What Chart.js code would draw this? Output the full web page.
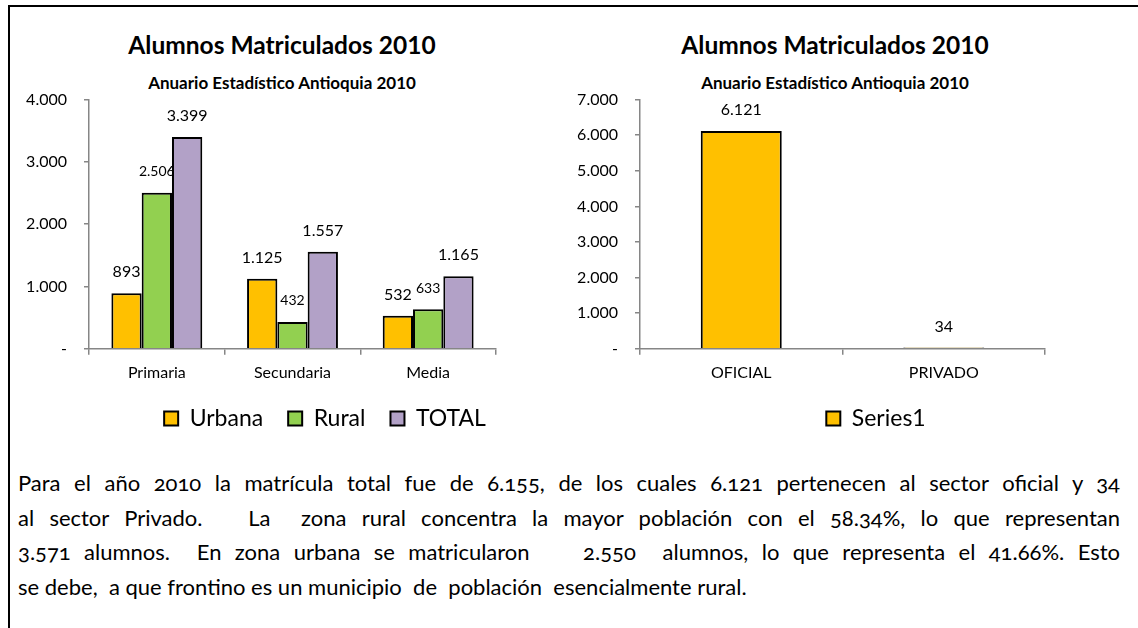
<!DOCTYPE html>
<html lang="es">
<head>
<meta charset="utf-8">
<title>Alumnos Matriculados 2010</title>
<script src="https://cdn.jsdelivr.net/npm/chart.js@4.4.1/dist/chart.umd.min.js"></script>
<style>
  html, body { margin: 0; padding: 0; background: #fff; }
  body { width: 1138px; height: 628px; position: relative; overflow: hidden; font-family: Lato, sans-serif; color: #000; }
  .frame-top { position: absolute; left: 8px; top: 5px; width: 1130px; height: 2px; background: #000; }
  .frame-left { position: absolute; left: 8px; top: 5px; width: 2px; height: 623px; background: #000; }
  .title, .subtitle { position: absolute; font-weight: bold; white-space: nowrap; transform: translateX(-50%); }
  .title { font-size: 24.5px; line-height: 24px; top: 33px; }
  .subtitle { font-size: 17px; line-height: 17px; top: 74px; }
  .chart-box { position: absolute; top: 73px; height: 367px; }
  .texto { position: absolute; left: 18px; top: 466px; width: 1102px; font-size: 22px; line-height: 34.7px; font-variant-numeric: oldstyle-nums; }
  .texto div { text-align: justify; text-align-last: justify; }
  .texto div.ultima { text-align-last: left; }
</style>
</head>
<body>
<div class="frame-top"></div>
<div class="frame-left"></div>

<div class="title" style="left:282px">Alumnos Matriculados 2010</div>
<div class="subtitle" style="left:282px">Anuario Estadístico Antioquia 2010</div>
<div class="chart-box" style="left:0px; width:650px"><canvas id="nivelesChart"></canvas></div>

<div class="title" style="left:835px">Alumnos Matriculados 2010</div>
<div class="subtitle" style="left:835px">Anuario Estadístico Antioquia 2010</div>
<div class="chart-box" style="left:560px; width:632px"><canvas id="sectoresChart"></canvas></div>

<div class="texto">
  <div>Para el año 2010 la matrícula total fue de 6.155, de los cuales 6.121 pertenecen al sector oficial y 34</div>
  <div>al sector Privado.&nbsp;&nbsp; La&nbsp; zona rural concentra la mayor población con el 58.34%, lo que representan</div>
  <div>3.571 alumnos.&nbsp; En zona urbana se matricularon &nbsp;&nbsp; 2.550&nbsp; alumnos, lo que representa el 41.66%. Esto</div>
  <div class="ultima">se debe,&nbsp; a que frontino es un municipio&nbsp; de&nbsp; población&nbsp; esencialmente rural.</div>
</div>

<script>
// Data
const niveles = ['Primaria', 'Secundaria', 'Media'];
const urbana = [893, 1125, 532];
const rural = [2506, 432, 633];
const total = [3399, 1557, 1165];

const sectores = ['OFICIAL', 'PRIVADO'];
const series1 = [6121, 34];

const nivelesMax = 4000;
const sectoresMax = 7000;
const tickStep = 1000;

// 4000 -> "4.000", 0 -> "-"
function formatNum(v) {
    if (v === 0) return '-';
    return String(v).replace(/\B(?=(\d{3})+(?!\d))/g, '.');
}

// Value labels above each bar
const valueLabels = {
    id: 'valueLabels',
    afterDatasetsDraw(chart) {
        const ctx = chart.ctx;
        ctx.save();
        ctx.fillStyle = '#000';
        ctx.textAlign = 'center';
        ctx.textBaseline = 'middle';
        chart.data.datasets.forEach((ds, i) => {
            const meta = chart.getDatasetMeta(i);
            ctx.font = (ds.labelSize || 16) + 'px Lato';
            meta.data.forEach((bar, j) => {
                ctx.fillText(formatNum(ds.data[j]), bar.x, bar.y - 21);
            });
        });
        ctx.restore();
    }
};

Chart.defaults.font.family = 'Lato';
Chart.defaults.color = '#000';

function makeChart(id, labels, datasets, yMax, leftWidth, rightWidth, categoryPercentage) {
    const axisColor = '#868686';
    return new Chart(document.getElementById(id), {
        type: 'bar',
        data: { labels, datasets },
        options: {
            responsive: true,
            maintainAspectRatio: false,
            animation: false,
            layout: { padding: { top: 12 } },
            datasets: {
                bar: { categoryPercentage, barPercentage: 1, borderColor: '#000', borderWidth: 2 }
            },
            scales: {
                x: {
                    grid: { drawOnChartArea: false, tickLength: 6, color: axisColor, lineWidth: 1.5, offset: true },
                    border: { color: axisColor, width: 1.5 },
                    ticks: { padding: 8, font: { size: 16 } },
                    // pull the legend a bit closer to the category labels
                    afterFit(scale) { scale.height -= 8; }
                },
                y: {
                    min: 0,
                    max: yMax,
                    grid: { drawOnChartArea: false, tickLength: 5, color: axisColor, lineWidth: 1.5 },
                    border: { color: axisColor, width: 1.5 },
                    ticks: { stepSize: tickStep, padding: 17, font: { size: 16 }, callback: v => formatNum(v) },
                    afterFit(scale) { scale.width = leftWidth; }
                },
                // empty axis on the right so the legend is centred like the original
                spacer: {
                    type: 'linear',
                    position: 'right',
                    grid: { display: false },
                    border: { display: false },
                    ticks: { display: false },
                    afterFit(scale) { scale.width = rightWidth; }
                }
            },
            plugins: {
                legend: {
                    position: 'bottom',
                    labels: { boxWidth: 14, boxHeight: 14, padding: 25, font: { size: 23 }, color: '#000' }
                },
                tooltip: { enabled: false }
            }
        },
        plugins: [valueLabels]
    });
}

makeChart('nivelesChart', niveles, [
    { label: 'Urbana', data: urbana, backgroundColor: '#FFC000' },
    { label: 'Rural', data: rural, backgroundColor: '#92D050', labelSize: 14 },
    { label: 'TOTAL', data: total, backgroundColor: '#B2A1C7' }
], nivelesMax, 89, 154, 0.67);

makeChart('sectoresChart', sectores, [
    { label: 'Series1', data: series1, backgroundColor: '#FFC000' }
], sectoresMax, 80, 147, 0.4);
</script>
</body>
</html>
